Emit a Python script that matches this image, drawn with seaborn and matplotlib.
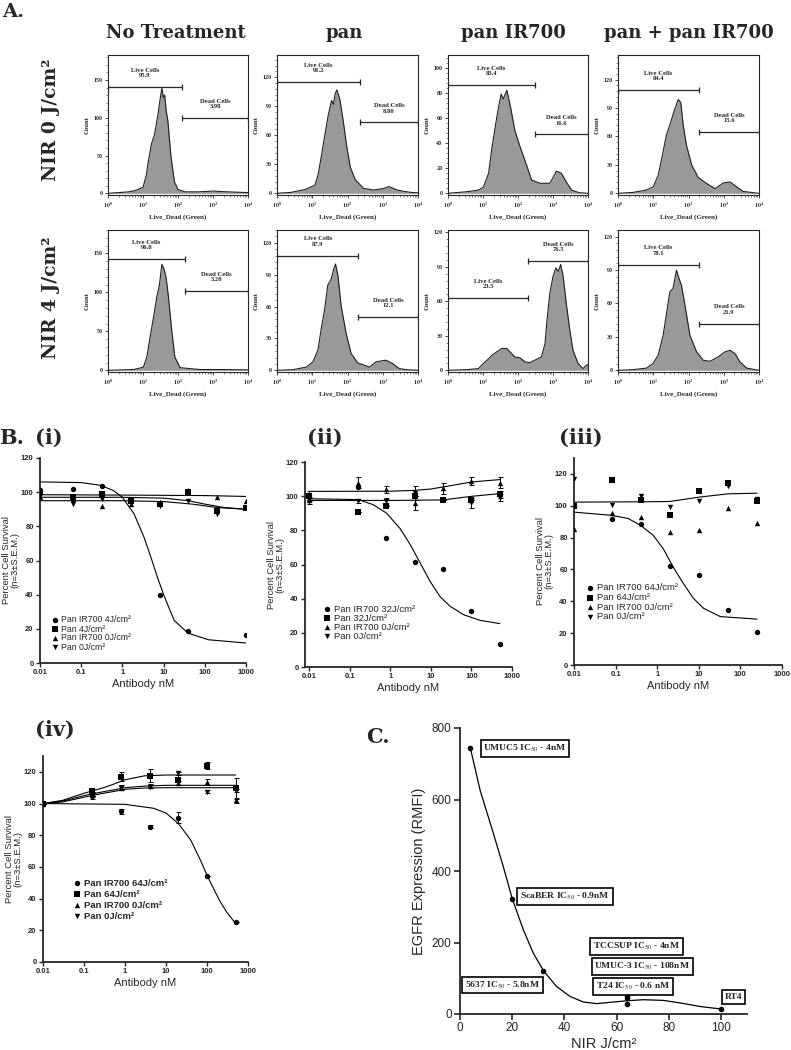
import numpy as np
import matplotlib
matplotlib.use("Agg")
import matplotlib.pyplot as plt
from matplotlib.ticker import AutoMinorLocator, FixedLocator, LogLocator, NullLocator
import seaborn as sns

# ---------------- A. flow cytometry histograms ----------------
# x = log10(Live_Dead green), y = count
NT0_LOGX = [0, 0.3, 0.6, 0.8, 1.0, 1.1, 1.14, 1.24, 1.33, 1.43, 1.49, 1.54, 1.58, 1.62, 1.66, 1.71, 1.8, 1.9, 2.0, 2.2, 2.6, 3.0, 3.4, 4.0]
NT0_COUNT = [0, 1, 2, 4, 8, 25, 39, 65, 78, 105, 125, 139, 127, 130, 110, 96, 48, 15, 5, 2, 2, 3, 2, 1]
PAN0_LOGX = [0, 0.4, 0.8, 1.08, 1.17, 1.27, 1.36, 1.46, 1.55, 1.6, 1.65, 1.7, 1.79, 1.89, 1.98, 2.08, 2.22, 2.46, 2.74, 3.03, 3.17, 3.41, 3.6, 3.8, 4.0]
PAN0_COUNT = [0, 1, 4, 8.5, 20, 41, 61, 82, 96, 92, 103, 107, 96, 72, 48, 27, 14, 5, 3.5, 5, 7, 3.5, 2, 1, 0.5]
IR0_LOGX = [0, 0.54, 0.87, 1.01, 1.16, 1.25, 1.35, 1.44, 1.52, 1.58, 1.68, 1.77, 1.91, 2.06, 2.2, 2.39, 2.63, 2.91, 3.1, 3.24, 3.38, 3.53, 3.75, 4.0]
IR0_COUNT = [0, 1.3, 2.6, 5, 16, 35, 53, 68, 79, 75, 82, 71, 50, 37, 26, 10.5, 8, 8, 17.6, 16, 9, 2.6, 0.5, 0]
MIX0_LOGX = [0, 0.43, 0.81, 1.0, 1.14, 1.28, 1.37, 1.52, 1.61, 1.71, 1.78, 1.85, 1.94, 2.09, 2.27, 2.51, 2.75, 2.99, 3.18, 3.36, 3.55, 4.0]
MIX0_COUNT = [0, 1, 3.5, 7, 19, 44, 61, 78, 89, 99, 96, 72, 51, 30, 17, 10.5, 5, 11, 12, 7, 2, 0]
NT4_LOGX = [0, 0.4, 0.73, 1.01, 1.11, 1.2, 1.3, 1.39, 1.47, 1.54, 1.6, 1.66, 1.73, 1.82, 1.91, 2.06, 2.63, 3.3, 4.0]
NT4_COUNT = [0, 0.5, 1, 4, 17, 42, 68, 93, 110, 136, 130, 119, 93, 51, 17, 3.4, 1, 1, 0.5]
PAN4_LOGX = [0, 0.45, 0.83, 1.02, 1.16, 1.25, 1.35, 1.44, 1.54, 1.61, 1.66, 1.73, 1.82, 1.96, 2.1, 2.29, 2.48, 2.62, 2.81, 3.09, 3.28, 3.47, 3.7, 4.0]
PAN4_COUNT = [0, 0.6, 3, 8, 19, 38, 57, 80, 86, 95.5, 100, 89, 60.5, 35, 16, 7, 4.8, 3, 8, 9.5, 6.4, 1.6, 0.5, 0]
IR4_LOGX = [0, 0.54, 0.87, 1.01, 1.16, 1.25, 1.39, 1.54, 1.68, 1.77, 1.91, 2.06, 2.2, 2.34, 2.53, 2.67, 2.77, 2.83, 2.91, 3.0, 3.08, 3.15, 3.22, 3.29, 3.38, 3.48, 3.57, 3.72, 3.86, 3.95, 4.0]
IR4_COUNT = [0, 0.6, 1.5, 6, 10, 13, 16, 19, 19, 16, 11.6, 10.8, 7.3, 6.7, 9.6, 11.6, 23, 44, 67, 81.6, 89, 86, 92, 81.6, 58, 35, 17.5, 5.8, 1.5, 4.4, 5]
MIX4_LOGX = [0, 0.43, 0.81, 0.99, 1.14, 1.28, 1.37, 1.47, 1.56, 1.66, 1.73, 1.8, 1.9, 2.04, 2.23, 2.42, 2.61, 2.84, 3.03, 3.18, 3.32, 3.46, 3.65, 4.0]
MIX4_COUNT = [0, 0.6, 2, 6, 13.5, 31.5, 49.5, 70.5, 73.5, 90, 82.5, 76.5, 58.5, 31.5, 16.5, 9, 8.1, 12, 16.5, 18, 15, 7.5, 2, 0]

COL_TITLES = ["No Treatment", "pan", "pan IR700", "pan + pan IR700"]
ROW_TITLES = ["NIR 0 J/cm²", "NIR 4 J/cm²"]
# gates (log10 boundaries) and gate counts
LIVE_END = [2.1, 2.36, 2.48, 2.29, 2.2, 2.31, 2.29, 2.29]
LIVE_Y = [141, 115.5, 86, 109, 143, 108, 63, 95]
DEAD_START = [2.12, 2.36, 2.48, 2.29, 2.2, 2.31, 2.29, 2.29]
DEAD_Y = [100, 73.5, 47, 65, 101.6, 50, 95, 42]
LIVE_PCT = ["95.9", "91.2", "83.4", "84.4", "96.8", "87.9", "23.5", "78.1"]
DEAD_PCT = ["3.98", "8.80", "16.6", "15.6", "3.20", "12.1", "76.5", "21.9"]
HIST_YMAX = [183, 143, 110, 146, 180, 132, 122, 126]
HIST_YSTEP = [50, 30, 20, 30, 50, 30, 30, 30]

# ---------------- B. dose response ----------------
LEG_I = ["Pan IR700 4J/cm²", "Pan 4J/cm²", "Pan IR700 0J/cm²", "Pan 0J/cm²"]
LEG_II = ["Pan IR700 32J/cm²", "Pan 32J/cm²", "Pan IR700 0J/cm²", "Pan 0J/cm²"]
LEG_III = ["Pan IR700 64J/cm²", "Pan 64J/cm²", "Pan IR700 0J/cm²", "Pan 0J/cm²"]

X_I = [0.01, 0.064, 0.32, 1.6, 8, 40, 200, 1000]
I_IR = [101, 102, 103.5, 95, 40, 18.5, np.nan, 16.5]
I_PAN = [100, 97, 99, 95, 93, 100, 89, 91]
I_IR0 = [97, 96, 92, 93, 94, 101, 97, 95]
I_PAN0 = [98, 93, 96, 95, 92, 95, 87, 91]
I_FIT_X = [0.01, 0.1, 0.3, 0.6, 1, 1.9, 3.3, 4.9, 7, 10.4, 18, 39, 123, 1000]
I_FIT_IR = [106, 105.6, 104, 101, 97, 87.5, 74, 62, 50.5, 39, 25, 17.5, 13.6, 11.7]
I_FIT_PAN_X = [0.01, 1, 10, 50, 200, 1000]
I_FIT_PAN = [95, 95, 94.5, 93, 91, 90]
I_FIT_IR0_X = [0.01, 1, 100, 1000]
I_FIT_IR0 = [98.5, 98.3, 98, 97.5]
I_FIT_PAN0_X = [0.01, 1, 10, 40, 100, 300, 1000]
I_FIT_PAN0 = [97, 97, 96.5, 95, 93, 91, 90]

X_II = [0.01, 0.16, 0.8, 4, 20, 100, 500]
II_IR = [100.5, 105.4, 75.5, 61.5, 57.6, 32.6, 13.5]
II_PAN = [100, 90.5, 94, 100, 98, 98, 101]
II_IR0 = [98, 108, 104, 96, 104.5, 109, 108]
II_PAN0 = [97.5, 97, 97, 102, 98, 96, 99]
II_SEM_PAN = [3, 0, 0, 0, 0, 0, 2]
II_SEM_IR0 = [0, 3, 2, 4, 3.5, 2.5, 3]
II_SEM_PAN0 = [2, 1, 2, 4, 0, 3, 2]
II_FIT_X = [0.01, 0.16, 0.38, 0.81, 1.74, 3.1, 5.4, 9.6, 17, 30, 64, 164, 500]
II_FIT_IR = [98.5, 98, 95, 90, 81, 71.6, 61, 50, 41, 35.5, 30.6, 27.3, 25.4]
II_FIT_UP_X = [0.01, 1, 4, 10, 20, 100, 500]
II_FIT_UP = [102.8, 102.9, 103.4, 104.2, 105.4, 108.3, 109.7]
II_FIT_MID_X = [0.01, 1, 20, 100, 500]
II_FIT_MID = [97.5, 97.5, 97.8, 99.9, 101.5]

X_III = [0.01, 0.08, 0.4, 2, 10, 50, 250]
III_IR = [100, 91.7, 88.5, 62, 56.5, 34.5, 21]
III_PAN = [100, 116, 103.5, 94.5, 109.5, 114.5, 103]
III_IR0 = [85.5, 95.5, 93, 83.5, 84.5, 98.5, 89]
III_PAN0 = [116.5, 100.5, 106, 99.5, 103, 112.5, 104.5]
III_FIT_X = [0.01, 0.08, 0.2, 0.4, 0.8, 1.4, 2.4, 4.25, 7.4, 13, 33, 250]
III_FIT_IR = [96, 94, 92, 87.7, 81.5, 73, 61.7, 51.2, 41.9, 35.6, 30.4, 28.8]
III_FIT_UP_X = [0.01, 0.5, 2, 10, 50, 250]
III_FIT_UP = [102.3, 102.5, 102.7, 105.4, 107.5, 107.9]

X_IV = [0.01, 0.16, 0.8, 4, 20, 100, 500]
IV_IR = [100, 105, 95, 85.5, 91, 54, 25]
IV_PAN = [100, 108, 117, 117.5, 115, 124, 109.5]
IV_IR0 = [100, 106, 110, 111, 113, 113.5, 102]
IV_PAN0 = [100, 104, 110, 110.5, 119, 107.5, 108]
IV_SEM_IR = [0, 1, 1.5, 1, 3.5, 0, 0]
IV_SEM_PAN = [0, 1, 3, 4, 3, 2, 6.5]
IV_SEM_IR0 = [0, 1, 1.5, 1.5, 1.5, 2, 1.5]
IV_SEM_PAN0 = [0, 1, 1.5, 1, 1, 1, 1]
IV_FIT_X = [0.01, 0.03, 0.1, 0.3, 0.5, 1, 3, 10, 100, 500]
IV_FIT_TOP = [100, 102, 106.5, 110, 112, 115, 117.5, 118, 118, 118]
IV_FIT_MID = [100, 101.5, 105, 107.5, 108.5, 110, 111, 111.5, 111.5, 111.5]
IV_FIT_LOW = [100, 101, 104, 106.5, 107.5, 109, 109.8, 110, 110, 110]
IV_FIT_IR_X = [0.01, 1, 5, 10, 20, 40, 70, 100, 200, 300, 500]
IV_FIT_IR = [100, 99.5, 97, 94, 87.4, 77, 64, 54.7, 39, 31.6, 24.2]

# ---------------- C. EGFR vs NIR dose ----------------
C_NIR = [4, 20, 32, 64, 64, 64, 100]
C_EGFR = [743, 323, 121, 50, 46, 28, 14]
C_LABELS = ["UMUC5 IC$_{50}$ - 4nM", "ScaBER IC$_{50}$ - 0.9nM", "5637 IC$_{50}$ - 5.8nM",
            "TCCSUP IC$_{50}$ - 4nM", "UMUC-3 IC$_{50}$ - 108nM", "T24 IC$_{50}$ - 0.6 nM", "RT4"]
C_LABEL_X = [9, 23, 2, 51, 51.5, 52, 101.6]
C_LABEL_Y = [742, 328, 81, 188, 133, 76, 48]
C_FIT_X = [4, 7.7, 12.8, 16.6, 20, 24.3, 28.1, 32, 37, 42.2, 47.3, 52.4, 58.8, 64, 70.3, 78, 84.4, 92, 100]
C_FIT_Y = [743, 626, 505, 412, 323, 235, 170, 121, 77, 49, 33.5, 29, 33.5, 37, 40, 38, 31, 21, 14]

sns.set_style("ticks")
plt.rcParams["font.family"] = ["Liberation Sans", "DejaVu Sans"]
plt.rcParams["mathtext.fontset"] = "stix"

W, H = 791, 1050
fig = plt.figure(figsize=(W / 100, H / 100), dpi=100)
SERIF = "Liberation Serif"
TITLE = "DejaVu Serif"


def add_box(l, t, r, b):
    return fig.add_axes([l / W, 1 - b / H, (r - l) / W, (b - t) / H])


def flow_panel(ax, logx, counts, i):
    x = np.power(10.0, logx)
    ax.fill_between(x, counts, 0, color="0.6", lw=0)
    sns.lineplot(x=x, y=counts, ax=ax, color="0.12", lw=0.8, sort=False, estimator=None)
    ax.set_xscale("log")
    ax.set_xlim(1, 1e4)
    ymax = HIST_YMAX[i]
    ax.set_ylim(-ymax * 0.012, ymax)
    ax.set_yticks(np.arange(0, ymax, HIST_YSTEP[i]))
    ax.yaxis.set_minor_locator(AutoMinorLocator(5))
    ax.xaxis.set_major_locator(FixedLocator([1, 10, 100, 1000, 10000]))
    ax.set_xticklabels([r"$\mathbf{10^{%d}}$" % k for k in range(5)])
    ax.xaxis.set_minor_locator(LogLocator(base=10, subs=np.arange(2, 10)))
    ax.tick_params(which="major", direction="out", length=2.5, width=0.6, labelsize=4.3, pad=1.5)
    ax.tick_params(which="minor", direction="out", length=1.3, width=0.4)
    for lab in ax.get_yticklabels():
        lab.set_fontfamily(SERIF)
        lab.set_fontweight("bold")
    for sp in ax.spines.values():
        sp.set_linewidth(0.8)
        sp.set_color("0.15")
    ax.set_ylabel("Count", fontsize=4.8, family=SERIF, weight="bold", labelpad=3)
    ax.set_xlabel("Live_Dead (Green)", fontsize=5, family=SERIF, weight="bold", labelpad=3)
    gates = [(0, LIVE_END[i], LIVE_Y[i], "Live Cells", LIVE_PCT[i]),
             (DEAD_START[i], 4, DEAD_Y[i], "Dead Cells", DEAD_PCT[i])]
    for g0, g1, gy, name, pct in gates:
        ax.plot([10 ** g0, 10 ** g1], [gy, gy], color="0.15", lw=0.9, marker="|", ms=4, mew=0.9)
        ax.annotate(f"{name}\n{pct}", (10 ** ((g0 + g1) / 2), gy), xytext=(0, 10),
                    textcoords="offset points", ha="center", va="center", fontsize=4.8,
                    family=SERIF, weight="bold", linespacing=1.1)


hists = [(NT0_LOGX, NT0_COUNT), (PAN0_LOGX, PAN0_COUNT), (IR0_LOGX, IR0_COUNT), (MIX0_LOGX, MIX0_COUNT),
         (NT4_LOGX, NT4_COUNT), (PAN4_LOGX, PAN4_COUNT), (IR4_LOGX, IR4_COUNT), (MIX4_LOGX, MIX4_COUNT)]
cols_x = [(108, 248), (277, 418), (448, 588), (618, 759)]
rows_y = [(55, 195), (230, 372)]
for i, (lx, cnt) in enumerate(hists):
    r, c = divmod(i, 4)
    ax = add_box(cols_x[c][0], rows_y[r][0], cols_x[c][1], rows_y[r][1])
    flow_panel(ax, lx, cnt, i)

fig.text(13 / W, 1 - 12 / H, "A.", fontsize=14, family=TITLE, weight="bold", ha="center", va="center")
for t, cx in zip(COL_TITLES, [176, 344, 513, 689]):
    fig.text(cx / W, 1 - 33 / H, t, fontsize=13, family=TITLE, weight="bold", ha="center", va="center")
for t, cy in zip(ROW_TITLES, [120, 298]):
    fig.text(51 / W, 1 - cy / H, t, fontsize=13.5, family=TITLE, weight="bold", ha="center",
             va="center", rotation=90)

# ---------------- B panels ----------------
MARKERS = ["o", "s", "^", "v"]


def dose_panel(ax, xs, ys, sems, fits, labels, ylim, xleft, leg_px, leg_ls, leg_fs=6.8, bold_leg=False):
    for y, e, m, lab in zip(ys, sems, MARKERS, labels):
        sns.scatterplot(x=xs, y=y, marker=m, color="k", s=15, linewidth=0, ax=ax, label=lab, zorder=3)
        if e is not None:
            ax.errorbar(xs, y, yerr=e, fmt="none", ecolor="k", elinewidth=0.7, capsize=1.8, capthick=0.7)
    for fx, fy in fits:
        sns.lineplot(x=fx, y=fy, color="k", lw=0.8, ax=ax, legend=False, estimator=None)
    ax.set_xscale("log")
    ax.set_xlim(xleft, 1000)
    ax.set_ylim(*ylim)
    ax.set_xticks([0.01, 0.1, 1, 10, 100, 1000], ["0.01", "0.1", "1", "10", "100", "1000"])
    ax.xaxis.set_minor_locator(NullLocator())
    ax.set_yticks(range(0, 121, 20))
    sns.despine(ax=ax)
    for sp in ("left", "bottom"):
        ax.spines[sp].set_linewidth(1.3)
    ax.tick_params(direction="out", length=3, width=1, labelsize=5.5, pad=1.5)
    for lab in ax.get_xticklabels() + ax.get_yticklabels():
        lab.set_fontweight("bold")
    ax.set_ylabel("Percent Cell Survival\n(n=3±S.E.M.)", fontsize=6.8, labelpad=1, linespacing=1.0)
    ax.set_xlabel("Antibody nM", fontsize=8, labelpad=2)
    leg = ax.legend(loc="upper left", bbox_to_anchor=((leg_px[0] - 3.8) / W, 1 - (leg_px[1] - 5.5) / H),
                    bbox_transform=fig.transFigure, frameon=False, fontsize=leg_fs, handlelength=0.8,
                    handletextpad=0.35, labelspacing=leg_ls, borderpad=0, borderaxespad=0)
    if bold_leg:
        for t in leg.get_texts():
            t.set_fontweight("bold")


ax1 = add_box(40, 458, 246, 663)
dose_panel(ax1, X_I, [I_IR, I_PAN, I_IR0, I_PAN0], [None] * 4,
           [(I_FIT_X, I_FIT_IR), (I_FIT_PAN_X, I_FIT_PAN), (I_FIT_IR0_X, I_FIT_IR0), (I_FIT_PAN0_X, I_FIT_PAN0)],
           LEG_I, (0, 120), 0.01, (55, 621), 0.0, leg_fs=6.3)

ax2 = add_box(305, 462, 512, 667)
dose_panel(ax2, X_II, [II_IR, II_PAN, II_IR0, II_PAN0], [None, II_SEM_PAN, II_SEM_IR0, II_SEM_PAN0],
           [(II_FIT_X, II_FIT_IR), (II_FIT_UP_X, II_FIT_UP), (II_FIT_MID_X, II_FIT_MID)],
           LEG_II, (0, 120), 0.00783, (327, 610), 0.01)

ax3 = add_box(574, 458, 782, 665)
dose_panel(ax3, X_III, [III_IR, III_PAN, III_IR0, III_PAN0], [None] * 4,
           [(III_FIT_X, III_FIT_IR), (III_FIT_UP_X, III_FIT_UP)],
           LEG_III, (0, 130), 0.01, (590, 589), 0.06)

ax4 = add_box(43, 756, 248, 962)
dose_panel(ax4, X_IV, [IV_IR, IV_PAN, IV_IR0, IV_PAN0], [IV_SEM_IR, IV_SEM_PAN, IV_SEM_IR0, IV_SEM_PAN0],
           [(IV_FIT_X, IV_FIT_TOP), (IV_FIT_X, IV_FIT_MID), (IV_FIT_X, IV_FIT_LOW), (IV_FIT_IR_X, IV_FIT_IR)],
           LEG_III, (0, 130), 0.01, (77, 884), 0.22, bold_leg=True)

for t, (px, py) in zip(["B.", "(i)", "(ii)", "(iii)", "(iv)", "C."],
                       [(12, 438), (49, 438), (325, 438), (581, 438), (55, 730), (378, 737)]):
    fig.text(px / W, 1 - py / H, t, fontsize=15, family=TITLE, weight="bold", ha="center", va="center")

# ---------------- C ----------------
axc = add_box(460, 728, 747, 1014)
sns.lineplot(x=C_FIT_X, y=C_FIT_Y, color="k", lw=0.9, ax=axc, estimator=None)
sns.scatterplot(x=C_NIR, y=C_EGFR, color="k", s=16, linewidth=0, ax=axc, zorder=3)
for lab, lx, ly in zip(C_LABELS, C_LABEL_X, C_LABEL_Y):
    axc.text(lx, ly, lab, fontsize=6.8, family=SERIF, weight="bold", ha="left", va="center",
             bbox=dict(boxstyle="square,pad=0.3", fc="white", ec="k", lw=1.2))
axc.set_xlim(0, 110)
axc.set_ylim(0, 800)
axc.set_xticks(range(0, 101, 20))
axc.set_yticks(range(0, 801, 200))
sns.despine(ax=axc)
for sp in ("left", "bottom"):
    axc.spines[sp].set_linewidth(1.3)
axc.tick_params(direction="out", length=4, width=1.2, labelsize=8.5, pad=2)
axc.set_ylabel("EGFR Expression (RMFI)", fontsize=10.5, labelpad=4)
axc.set_xlabel("NIR J/cm²", fontsize=10.5, labelpad=2)

fig.savefig("out.png", dpi=100)
